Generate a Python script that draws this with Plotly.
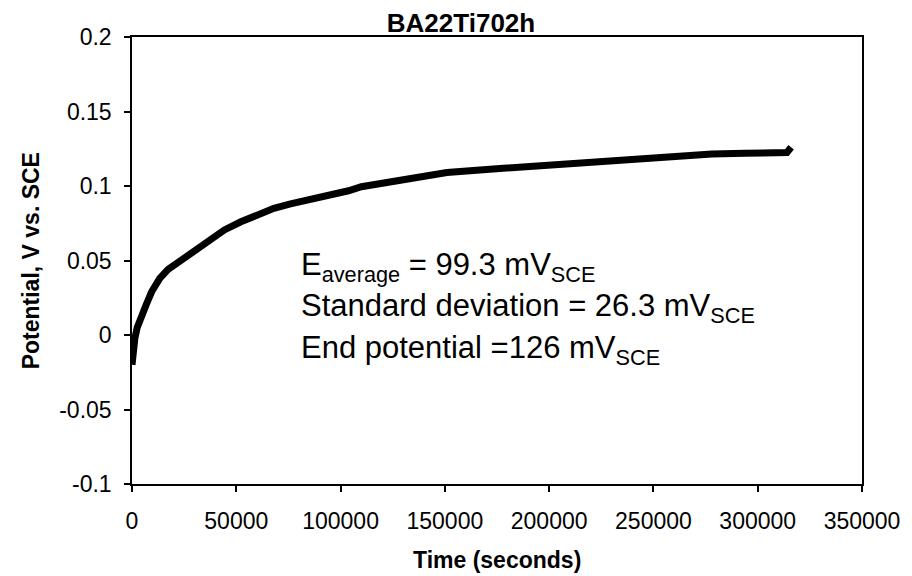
import plotly.graph_objects as go

# Open-circuit potential record for specimen BA22Ti702h
time_s = [0, 400, 1400, 2500, 3800, 5000, 7000, 9400, 13300, 17300, 21400,
          26000, 32400, 38000, 44300, 52200, 60100, 68000, 76000,
          84000, 92000, 98000, 103800, 110000, 119500, 135300, 151000,
          166800, 182600, 198400, 214000, 230000, 246000, 262000, 278000,
          294000, 306000, 314000, 316000]
potential_v = [-0.020, -0.009, -0.002, 0.005, 0.0105, 0.015, 0.021, 0.029,
               0.038, 0.044, 0.048, 0.053, 0.059, 0.064, 0.0705,
               0.0760, 0.0810, 0.085, 0.088, 0.0905, 0.0928, 0.0945, 0.0968,
               0.0995, 0.1018, 0.1058, 0.109, 0.1108, 0.1124, 0.114, 0.1155,
               0.1175, 0.119, 0.1205, 0.1215, 0.122, 0.122, 0.1224, 0.126]

x_ticks = [0, 50000, 100000, 150000, 200000, 250000, 300000, 350000]
x_tick_text = ["0", "50000", "100000", "150000", "200000", "250000",
               "300000", "350000"]
y_ticks = [-0.1, -0.05, 0, 0.05, 0.1, 0.15, 0.2]
y_tick_text = ["-0.1", "-0.05", "0", "0.05", "0.1", "0.15", "0.2"]

stats_lines = [
    "E<sub>average</sub> = 99.3 mV<sub>SCE</sub>",
    "Standard deviation = 26.3 mV<sub>SCE</sub>",
    "End potential =126 mV<sub>SCE</sub>",
]

FONT = "Liberation Sans, Arial, sans-serif"

fig = go.Figure()
fig.add_trace(go.Scatter(
    x=time_s, y=potential_v, mode="lines",
    line=dict(color="black", width=7),
    showlegend=False,
))

axis_common = dict(
    showline=True, linecolor="black", linewidth=1.5, mirror=True,
    showgrid=False, zeroline=False,
    ticks="outside", ticklen=6, tickwidth=1.5, tickcolor="black",
    tickfont=dict(family=FONT, size=23, color="black"),
)

fig.update_layout(
    width=912, height=576,
    margin=dict(l=132, r=44, t=37, b=92),
    paper_bgcolor="white", plot_bgcolor="white",
    title=dict(
        text="<b>BA22Ti702h</b>",
        font=dict(family=FONT, size=26, color="black"),
        x=461 / 912, xref="container", xanchor="center",
        y=1 - 23 / 576, yref="container", yanchor="middle",
    ),
    xaxis=dict(range=[0, 350000], tickvals=x_ticks, ticktext=x_tick_text,
               ticklabelstandoff=10, **axis_common),
    yaxis=dict(range=[-0.1, 0.2], tickvals=y_ticks, ticktext=y_tick_text,
               ticklabelstandoff=8, **axis_common),
)

# axis titles
fig.add_annotation(
    text="<b>Time (seconds)</b>", xref="paper", yref="paper",
    x=(500 - 132) / 736, y=-(560 - 484) / 447,
    xanchor="center", yanchor="middle", showarrow=False,
    font=dict(family=FONT, size=23, color="black"),
)
fig.add_annotation(
    text="<b>Potential, V vs. SCE</b>", xref="paper", yref="paper",
    x=(30 - 132) / 736, y=0.5, xanchor="center", yanchor="middle",
    showarrow=False, textangle=-90,
    font=dict(family=FONT, size=23, color="black"),
)

# summary statistics block
for line, ypix in zip(stats_lines, [267, 308, 350]):
    fig.add_annotation(
        text=line, xref="paper", yref="paper",
        x=(300 - 132) / 736, y=(484 - ypix) / 447,
        xanchor="left", yanchor="middle", showarrow=False,
        font=dict(family=FONT, size=31, color="black"),
    )

fig.write_html("out.html")
